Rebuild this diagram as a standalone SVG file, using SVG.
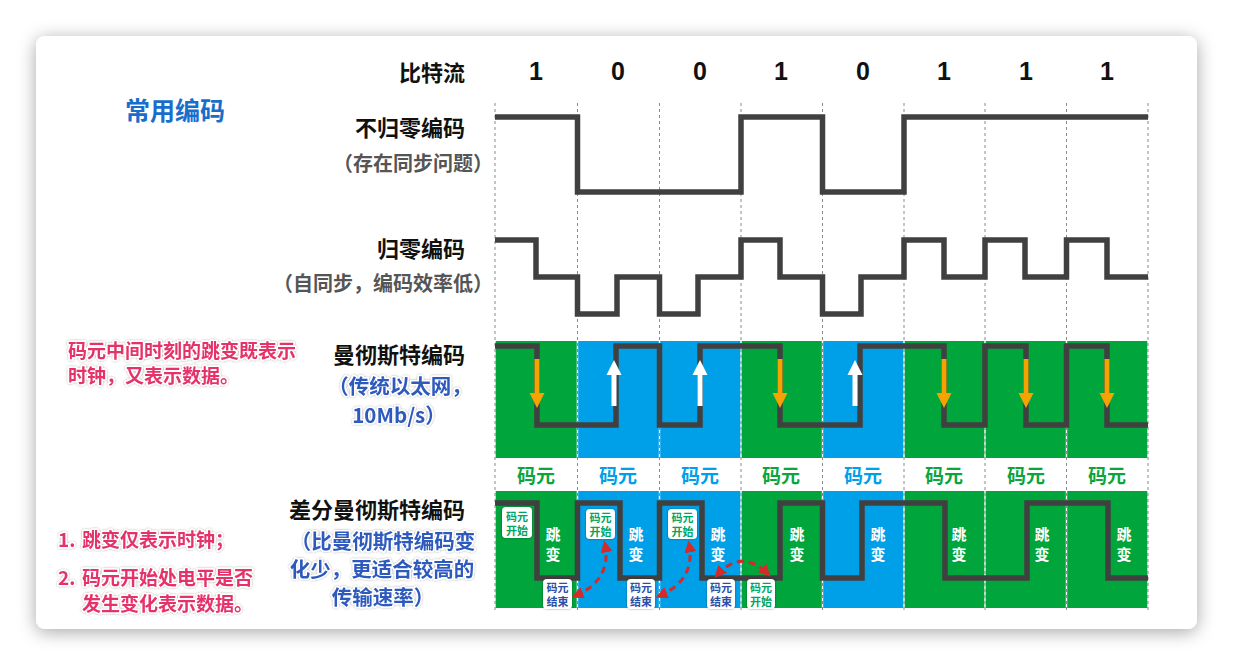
<svg xmlns="http://www.w3.org/2000/svg" width="1234" height="666" viewBox="0 0 1234 666">
<defs>
<style>
.cjk{font-family:"Noto Sans CJK SC","Noto Sans",sans-serif;font-weight:bold;dominant-baseline:central}
.title{font-size:22px;fill:#111;text-anchor:end}
.gray{font-size:20px;fill:#555;text-anchor:end}
.blue{font-size:20.5px;fill:#2D5ABE;text-anchor:middle;stroke:#fff;stroke-width:3;paint-order:stroke;stroke-linejoin:round}
.red{font-size:19px;fill:#E6336A;stroke:#fff;stroke-width:3;paint-order:stroke;stroke-linejoin:round}
.bit{font-family:"Liberation Sans",Arial,sans-serif;font-weight:bold;font-size:25px;fill:#111;text-anchor:middle;dominant-baseline:central}
.wave{fill:none;stroke:#404040;stroke-width:5.5;stroke-linejoin:miter}
.grid{stroke:#8a8a8a;stroke-width:1;stroke-dasharray:3 3}
.g{fill:#00A53C}
.b{fill:#00A0E9}
.cyg{font-size:19px;fill:#0BA53C;text-anchor:middle}
.cyb{font-size:19px;fill:#00A0E9;text-anchor:middle}
.jb{font-size:15px;fill:#fff;text-anchor:middle}
.tag{fill:#fff;rx:4}
.ts{font-size:11px;fill:#00A565;text-anchor:middle}
.te{font-size:11px;fill:#2C4EA5;text-anchor:middle}
.orange{fill:#F5A300}
.white{fill:#fff}
.red-arrow{fill:none;stroke:#D42A2A;stroke-width:3;stroke-dasharray:7 5}
</style>
<filter id="card" x="-10%" y="-10%" width="120%" height="120%">
<feDropShadow dx="0" dy="3" stdDeviation="9" flood-color="#000" flood-opacity="0.35"/>
</filter>
<filter id="lift" x="-10%" y="-30%" width="120%" height="160%">
<feDropShadow dx="0" dy="0" stdDeviation="1.3" flood-color="#000" flood-opacity="0.35"/>
</filter>
<filter id="tagsh" x="-30%" y="-30%" width="160%" height="160%">
<feDropShadow dx="0" dy="0" stdDeviation="1.2" flood-color="#000" flood-opacity="0.4"/>
</filter>
<marker id="rh" viewBox="0 0 10 10" refX="7" refY="5" markerWidth="4" markerHeight="4" orient="auto-start-reverse" markerUnits="strokeWidth">
<path d="M0,0 L10,5 L0,10 z" fill="#D42A2A"/>
</marker>
</defs>

<rect width="1234" height="666" fill="#ffffff"/>
<rect x="36" y="36" width="1161" height="593" rx="9" fill="#fff" filter="url(#card)"/>

<g id="grid">
<line class="grid" x1="495" y1="103" x2="495" y2="610"/>
<line class="grid" x1="577.5" y1="103" x2="577.5" y2="610"/>
<line class="grid" x1="659.5" y1="103" x2="659.5" y2="610"/>
<line class="grid" x1="741" y1="103" x2="741" y2="610"/>
<line class="grid" x1="822.5" y1="103" x2="822.5" y2="610"/>
<line class="grid" x1="904" y1="103" x2="904" y2="610"/>
<line class="grid" x1="985" y1="103" x2="985" y2="610"/>
<line class="grid" x1="1066.5" y1="103" x2="1066.5" y2="610"/>
<line class="grid" x1="1148" y1="103" x2="1148" y2="610"/>
</g>

<g id="title">
<text class="cjk" x="175" y="109" font-size="25" fill="#1A6ECB" text-anchor="middle">常用编码</text>
</g>

<g id="bitstream">
<text class="cjk title" x="465" y="71">比特流</text>
<text class="bit" x="536" y="71">1</text>
<text class="bit" x="618" y="71">0</text>
<text class="bit" x="700" y="71">0</text>
<text class="bit" x="781" y="71">1</text>
<text class="bit" x="863" y="71">0</text>
<text class="bit" x="944" y="71">1</text>
<text class="bit" x="1026" y="71">1</text>
<text class="bit" x="1107" y="71">1</text>
</g>

<g id="nrz">
<text class="cjk title" x="465" y="126">不归零编码</text>
<text class="cjk gray" x="493" y="162">（存在同步问题）</text>
<path class="wave" d="M495,117 H577.5 V192 H741 V117 H822.5 V192 H904 V117 H1148"/>
</g>

<g id="rz">
<text class="cjk title" x="465" y="247">归零编码</text>
<text class="cjk gray" x="493" y="282">（自同步，编码效率低）</text>
<path class="wave" d="M495,240 H536 V277 H577.5 V314 H617 V277 H659.5 V314 H698 V277 H741 V240 H780 V277 H822.5 V314 H861 V277 H904 V240 H944 V277 H985 V240 H1025 V277 H1066.5 V240 H1107 V277 H1148"/>
</g>

<g id="manchester">
<text class="cjk title" x="465" y="353">曼彻斯特编码</text>
<text class="cjk blue" x="400" y="385" filter="url(#lift)">（传统以太网，</text>
<text class="cjk blue" x="399" y="414" filter="url(#lift)">10Mb/s）</text>
<rect class="g" x="495.7" y="341" width="81" height="117"/>
<rect class="b" x="578.2" y="341" width="80.6" height="117"/>
<rect class="b" x="660.2" y="341" width="80.1" height="117"/>
<rect class="g" x="741.7" y="341" width="80.1" height="117"/>
<rect class="b" x="823.2" y="341" width="80.1" height="117"/>
<rect class="g" x="904.7" y="341" width="79.6" height="117"/>
<rect class="g" x="985.7" y="341" width="80.1" height="117"/>
<rect class="g" x="1067.2" y="341" width="80.1" height="117"/>
<path class="wave" d="M495,346 H537 V425 H616 V346 H659.5 V425 H700 V346 H780 V425 H860 V346 H944 V425 H985 V346 H1026 V425 H1066.5 V346 H1107 V425 H1148"/>
</g>

<g id="symbol-row">
<text class="cjk cyg" x="536" y="474">码元</text>
<text class="cjk cyb" x="618" y="474">码元</text>
<text class="cjk cyb" x="700" y="474">码元</text>
<text class="cjk cyg" x="781" y="474">码元</text>
<text class="cjk cyb" x="863" y="474">码元</text>
<text class="cjk cyg" x="944" y="474">码元</text>
<text class="cjk cyg" x="1026" y="474">码元</text>
<text class="cjk cyg" x="1107" y="474">码元</text>
</g>

<g id="diff-manchester">
<text class="cjk title" x="465" y="508">差分曼彻斯特编码</text>
<text class="cjk blue" x="383" y="540" filter="url(#lift)">（比曼彻斯特编码变</text>
<text class="cjk blue" x="382" y="568" filter="url(#lift)">化少，更适合较高的</text>
<text class="cjk blue" x="383" y="596" filter="url(#lift)">传输速率）</text>
<rect class="g" x="495.7" y="491" width="81" height="117"/>
<rect class="b" x="578.2" y="491" width="80.6" height="117"/>
<rect class="b" x="660.2" y="491" width="80.1" height="117"/>
<rect class="g" x="741.7" y="491" width="80.1" height="117"/>
<rect class="b" x="823.2" y="491" width="80.1" height="117"/>
<rect class="g" x="904.7" y="491" width="79.6" height="117"/>
<rect class="g" x="985.7" y="491" width="80.1" height="117"/>
<rect class="g" x="1067.2" y="491" width="80.1" height="117"/>
<path class="wave" d="M495,503 H537 V578 H577.5 V503 H620 V578 H659.5 V503 H702 V578 H780 V503 H822.5 V578 H862 V503 H945 V578 H1027 V503 H1108 V578 H1148"/>
<g id="jump-labels">
<text class="cjk jb" x="553" y="533">跳</text><text class="cjk jb" x="553" y="553">变</text>
<text class="cjk jb" x="636" y="533">跳</text><text class="cjk jb" x="636" y="553">变</text>
<text class="cjk jb" x="718" y="533">跳</text><text class="cjk jb" x="718" y="553">变</text>
<text class="cjk jb" x="797" y="533">跳</text><text class="cjk jb" x="797" y="553">变</text>
<text class="cjk jb" x="878" y="533">跳</text><text class="cjk jb" x="878" y="553">变</text>
<text class="cjk jb" x="959" y="533">跳</text><text class="cjk jb" x="959" y="553">变</text>
<text class="cjk jb" x="1042" y="533">跳</text><text class="cjk jb" x="1042" y="553">变</text>
<text class="cjk jb" x="1124" y="533">跳</text><text class="cjk jb" x="1124" y="553">变</text>
</g>
</g>

<g id="start-tag-1"><rect class="tag" x="502" y="507" width="30" height="31" filter="url(#tagsh)"/><text class="cjk ts" x="517" y="515.5">码元</text><text class="cjk ts" x="517" y="529.5">开始</text></g>
<g id="start-tag-2"><rect class="tag" x="586" y="509" width="29" height="30" filter="url(#tagsh)"/><text class="cjk ts" x="600.5" y="517">码元</text><text class="cjk ts" x="600.5" y="531">开始</text></g>
<g id="start-tag-3"><rect class="tag" x="668" y="509" width="29" height="30" filter="url(#tagsh)"/><text class="cjk ts" x="682.5" y="517">码元</text><text class="cjk ts" x="682.5" y="531">开始</text></g>
<g id="start-tag-4"><rect class="tag" x="747" y="579" width="28" height="30" filter="url(#tagsh)"/><text class="cjk ts" x="761" y="587">码元</text><text class="cjk ts" x="761" y="601">开始</text></g>
<g id="end-tag-1"><rect class="tag" x="543" y="579" width="29" height="30" filter="url(#tagsh)"/><text class="cjk te" x="557.5" y="587">码元</text><text class="cjk te" x="557.5" y="601">结束</text></g>
<g id="end-tag-2"><rect class="tag" x="627" y="579" width="28" height="30" filter="url(#tagsh)"/><text class="cjk te" x="641" y="587">码元</text><text class="cjk te" x="641" y="601">结束</text></g>
<g id="end-tag-3"><rect class="tag" x="707" y="579" width="28" height="30" filter="url(#tagsh)"/><text class="cjk te" x="721" y="587">码元</text><text class="cjk te" x="721" y="601">结束</text></g>

<g id="notes">
<text class="cjk red" x="68" y="349" filter="url(#lift)">码元中间时刻的跳变既表示</text>
<text class="cjk red" x="68" y="374" filter="url(#lift)">时钟，又表示数据。</text>
<text class="cjk red" x="58" y="538" filter="url(#lift)">1.<tspan x="82">跳变仅表示时钟；</tspan></text>
<text class="cjk red" x="58" y="576" filter="url(#lift)">2.<tspan x="82">码元开始处电平是否</tspan></text>
<text class="cjk red" x="82" y="602" filter="url(#lift)">发生变化表示数据。</text>
</g>

<g id="connectors">
<g id="down-arrows" class="orange">
<rect x="534.5" y="359" width="5" height="36"/><polygon points="529.5,393 544.5,393 537,408"/>
<rect x="777.5" y="359" width="5" height="36"/><polygon points="772.5,393 787.5,393 780,408"/>
<rect x="941.5" y="359" width="5" height="36"/><polygon points="936.5,393 951.5,393 944,408"/>
<rect x="1023.5" y="359" width="5" height="36"/><polygon points="1018.5,393 1033.5,393 1026,408"/>
<rect x="1104.5" y="359" width="5" height="36"/><polygon points="1099.5,393 1114.5,393 1107,408"/>
</g>
<g id="up-arrows" class="white">
<rect x="611.5" y="373" width="5" height="33"/><polygon points="606.5,375 621.5,375 614,360"/>
<rect x="697.5" y="373" width="5" height="33"/><polygon points="692.5,375 707.5,375 700,360"/>
<rect x="852.5" y="373" width="5" height="33"/><polygon points="847.5,375 862.5,375 855,360"/>
</g>
<path class="red-arrow" d="M575,596 Q612,580 605,544" marker-start="url(#rh)" marker-end="url(#rh)"/>
<path class="red-arrow" d="M659,596 Q696,580 689,544" marker-start="url(#rh)" marker-end="url(#rh)"/>
<path class="red-arrow" d="M717,575 Q742,548 768,574" marker-start="url(#rh)" marker-end="url(#rh)"/>
</g>
</svg>
